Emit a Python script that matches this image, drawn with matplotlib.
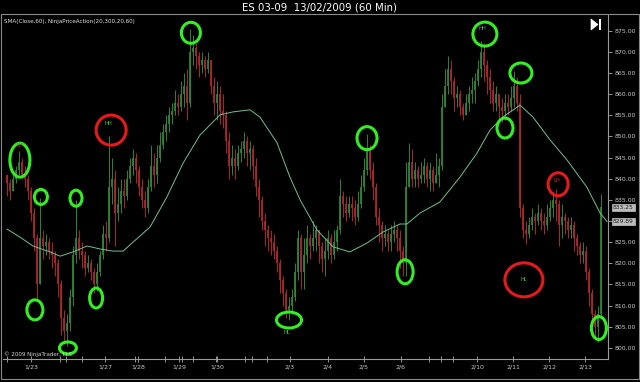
import matplotlib
matplotlib.use("Agg")
import matplotlib.pyplot as plt
from matplotlib.patches import Ellipse, Polygon, Rectangle
import numpy as np

# ---------------- data ----------------
title = "ES 03-09  13/02/2009 (60 Min)"
indicator_label = "SMA(Close,60), NinjaPriceAction(20,300,20,60)"
copyright_label = "\u00a9 2009 NinjaTrader, LLC"

first_open = 841
closes = [839,837,840,842,844,841,840,837,832,826,815,826,824,825,823,822,820,815,807,804,
          806,812,822,826,823,822,819,820,818,815,818,822,827,826,838,840,832,834,837,836,
          840,843,845,842,838,835,833,838,843,841,845,848,851,853,855,856,858,857,860,862,
          858,870,871,869,867,868,866,868,862,858,860,856,855,849,843,845,843,846,847,849,
          846,847,843,838,835,830,828,826,825,823,820,816,813,809,810,812,818,826,818,822,
          826,824,826,828,824,821,823,826,822,825,828,836,834,832,834,833,831,834,838,842,
          847,842,838,831,829,826,827,825,827,828,826,823,820,838,844,840,842,840,841,843,
          840,842,839,841,843,857,862,866,863,859,860,857,855,858,860,861,863,866,870,867,
          864,861,858,860,857,856,858,857,859,862,858,833,828,827,829,831,830,832,830,829,
          831,833,835,834,829,831,830,828,829,826,824,822,823,818,813,808,805,808,833.25]
highs = [841,840,841,843,846.5,845,843,841,838,833,827,835.5,828,827,826,825,823,821,816,809,
         808,814,824,835,828,825,823,822,821,819,820,823,829,830,850,845,842,838,840,840,
         842,845,847,846,843,840,837,840,848,846,848,851,853,855,857,858,861,860,863,865,
         866,875.5,874,872,870,870,869,870,868,864,863,862,860,856,851,848,847,848,849,851,
         850,849,848,845,840,836,832,829,828,827,824,821,817,814,812,814,820,828,827,826,
         829,827,830,829,828,825,826,828,827,828,829,840,837,836,836,836,835,837,841,845,
         850.5,848,844,839,833,830,829,828,829,830,829,828,824,844,848.5,847,844,843,844,845,
         844,844,843,846,845,860,866,869,868,864,862,861,858,860,862,864,865,868,872.5,872,
         868,866,863,862,860,859,860,860,862,865.5,864,860,834,830,831,833,832,834,833,832,
         834,835,837,837.5,835,834,832,831,831,830,827,825,825,824,819,814,809,810,836.5]
lows = [836,835,837,839,841,840,838,835,830,823,811,815,821,822,821,819,817,812,803,801,
        800.5,804,810,820,821,819,817,818,816,813,813.5,817,821,823,825,834,824,830,832,833,
        835,839,841,839,836,833,831,832,837,838,839,844,847,849,851,853,855,855,856,857,
        854,857,867,866,864,865,864,865,860,855,854,853,852,846,840,841,840,842,844,845,
        843,842,840,836,831,828,824,823,822,821,818,813,810,807,806.5,808,811,816,814,814,
        820,821,823,823,820,818,817,821,820,821,823,827,831,830,831,830,829,830,833,837,
        841,840,835,829,825,823,824,823,823,825,823,819,817,817,838,838,838,838,839,839,
        838,837,837,839,838,842,857,860,860,856,857,855,854,855,856,858,858,862,864,863,
        860,858,856,856,854,853.5,854,855,856,857,856,831,826,824.5,826,828,827,829,828,827,
        828,830,831,830,824,826,827,826,826,823,822,820,820,816,810,806,802,801.5,807]

# SMA(Close,60): (bar index, value)
sma_bar = [0, 4.3, 8.7, 14.3, 17.7, 22, 26.7, 31, 35.3, 38.7, 42, 47.7, 53.3, 58.7, 64.3, 71,
           75.3, 81, 84.3, 90, 94.3, 97.7, 103.3, 108.7, 114.3, 120, 125.3, 131, 133.3, 137.7,
           144.3, 151, 156.7, 161, 165.3, 171, 175.3, 181, 186.7, 193.3, 197.7, 200]
sma_val = [828.1, 826.2, 824.1, 822.7, 821.7, 822.7, 824.1, 823.4, 822.9, 822.9, 825.0, 828.6,
           835.7, 843.7, 850.3, 855.1, 855.8, 856.3, 854.6, 848.5, 840.4, 835.0, 827.9, 823.9,
           822.7, 824.8, 827.4, 829.3, 829.3, 831.9, 834.5, 840.4, 846.1, 851.5, 854.6, 857.4,
           854.6, 849.2, 844.4, 838.0, 831.9, 829.89]

# swing markers: (bar index, price, kind)
mark_bar = [4.3, 11.3, 9.3, 20.3, 23, 29.7, 61.3, 94, 120, 132.7, 159.3, 166, 171.3, 197.3,
            34.7, 172.3, 183.7]
mark_price = [844.4, 835.7, 809.0, 800.0, 835.4, 811.8, 874.5, 806.6, 849.6, 818.0, 874.2,
              852.0, 865.0, 804.7, 851.5, 816.1, 838.7]
mark_kind = ["g"] * 14 + ["r"] * 3
mark_size_px = [(20, 34), (13, 15), (16, 20), (17, 12), (12, 16), (13, 20), (19, 21), (25, 16),
                (20, 23), (16, 24), (24, 24), (16, 20), (22, 20), (15, 23), (30, 30), (38, 34),
                (20, 23)]

swing_text = ["LH", "HH", "HL", "HH", "HL", "LH"]
swing_bar = [4.3, 33.7, 93.3, 158.3, 172.3, 183.3]
swing_price = [847.8, 853.0, 803.6, 875.6, 816.1, 839.6]
swing_color = ["#d02828", "#3cc83c", "#3cc83c", "#7a9a7a", "#3cc83c", "#d02828"]

date_labels = ["1/23", "1/27", "1/28", "1/29", "1/30", "2/3", "2/4", "2/5", "2/6",
               "2/10", "2/11", "2/12", "2/13"]
date_bar = [8, 32.7, 43.7, 57.3, 70, 94.3, 107, 119, 131.3, 156.7, 168.7, 180.7, 192.7]
minor_tick_bar = [0, 17.7, 19.7, 25, 42.7, 52.7, 58.3, 62, 69.7, 79.3, 81.7, 86.7, 140.7, 144.7,
                  148.7]

last_price = 833.25
last_sma = 829.89

# ---------------- figure ----------------
W, H = 640, 382
fig = plt.figure(figsize=(W / 100, H / 100), dpi=100, facecolor="black")
ax = fig.add_axes([3 / W, 1 - 359 / H, (608 - 3) / W, (359 - 15) / H], facecolor="black")

n = len(closes)
x = np.arange(n)
opens = np.array([first_open] + closes[:-1], dtype=float)
c = np.array(closes, dtype=float)
up = c >= opens
col = np.where(up, "#2f8436", "#ad262c")
ax.vlines(x, lows, highs, colors=col, lw=0.7)
ax.vlines(x, np.minimum(opens, c), np.maximum(opens, c), colors=col, lw=1.3)

ax.plot(sma_bar, sma_val, color="#72c08e", lw=0.7)

px_per_bar = 3.0
px_per_pt = 4.23
for b, p, k, (w, h) in zip(mark_bar, mark_price, mark_kind, mark_size_px):
    ec = "#33ee22" if k == "g" else "#e41a1c"
    ax.add_patch(Ellipse((b, p), w / px_per_bar, h / px_per_pt, fill=False, ec=ec, lw=2.2,
                         zorder=5))
for t, b, p, cc in zip(swing_text, swing_bar, swing_price, swing_color):
    ax.text(b, p, t, color=cc, fontsize=3.8, ha="center", va="center", zorder=6)

ax.set_xlim(-4 / 3, 601 / 3)
ylo = 875 - (359 - 30.7) / px_per_pt
yhi = 875 + (30.7 - 15) / px_per_pt
ax.set_ylim(ylo, yhi)

ax.yaxis.tick_right()
yt = np.arange(800, 876, 5)
ax.set_yticks(yt)
# the 830.00 label is covered by the SMA price tag in the reference
ax.set_yticklabels(["" if v == 830 else "%.2f" % v for v in yt])
ax.tick_params(axis="y", colors="#aaaaaa", labelcolor="#c8c8c8", labelsize=4.5, length=3,
               width=0.6, pad=1.5)
ax.set_xticks(date_bar)
ax.set_xticklabels(date_labels)
ax.set_xticks(minor_tick_bar, minor=True)
ax.tick_params(axis="x", which="both", colors="#aaaaaa", labelcolor="#c8c8c8", labelsize=4.5,
               length=4, width=0.6, pad=2, direction="inout")
for s in ["left", "top"]:
    ax.spines[s].set_visible(False)
for s in ["right", "bottom"]:
    ax.spines[s].set_color("#9a9a9a")
    ax.spines[s].set_linewidth(0.8)

# price tags on the right axis
for v in [last_price, last_sma]:
    ax.text(1.008, (v - ylo) / (yhi - ylo), "%.2f" % v,
            transform=ax.transAxes, fontsize=4.3, color="#202020", va="center", ha="left",
            bbox=dict(boxstyle="square,pad=0.2", fc="#bdbdbd", ec="#e0e0e0", lw=0.4),
            clip_on=False)

# texts
fig.text(0.5, 1 - 7.5 / H, title, color="white", fontsize=7.3, ha="center", va="center")
fig.text(4 / W, 1 - 21 / H, indicator_label, color="#e0e0e0", fontsize=4.1, ha="left",
         va="center")
fig.text(4 / W, 1 - 354 / H, copyright_label, color="#d0d0d0", fontsize=4.1, ha="left",
         va="center")

# panel border
fig.add_artist(Rectangle((0.5 / W, 1 - 379 / H), 638.5 / W, 365 / H, transform=fig.transFigure,
                         fill=False, ec="#8a8a8a", lw=0.8))
# "go to end" icon
fig.add_artist(Polygon([(591 / W, 1 - 19 / H), (591 / W, 1 - 30 / H), (598 / W, 1 - 24.5 / H)],
                       closed=True, transform=fig.transFigure, fc="white", ec="white", lw=0.5))
fig.add_artist(Rectangle((599 / W, 1 - 30 / H), 1.8 / W, 11 / H, transform=fig.transFigure,
                         fc="white", ec="none"))

fig.savefig("out.png", dpi=100, facecolor="black")
